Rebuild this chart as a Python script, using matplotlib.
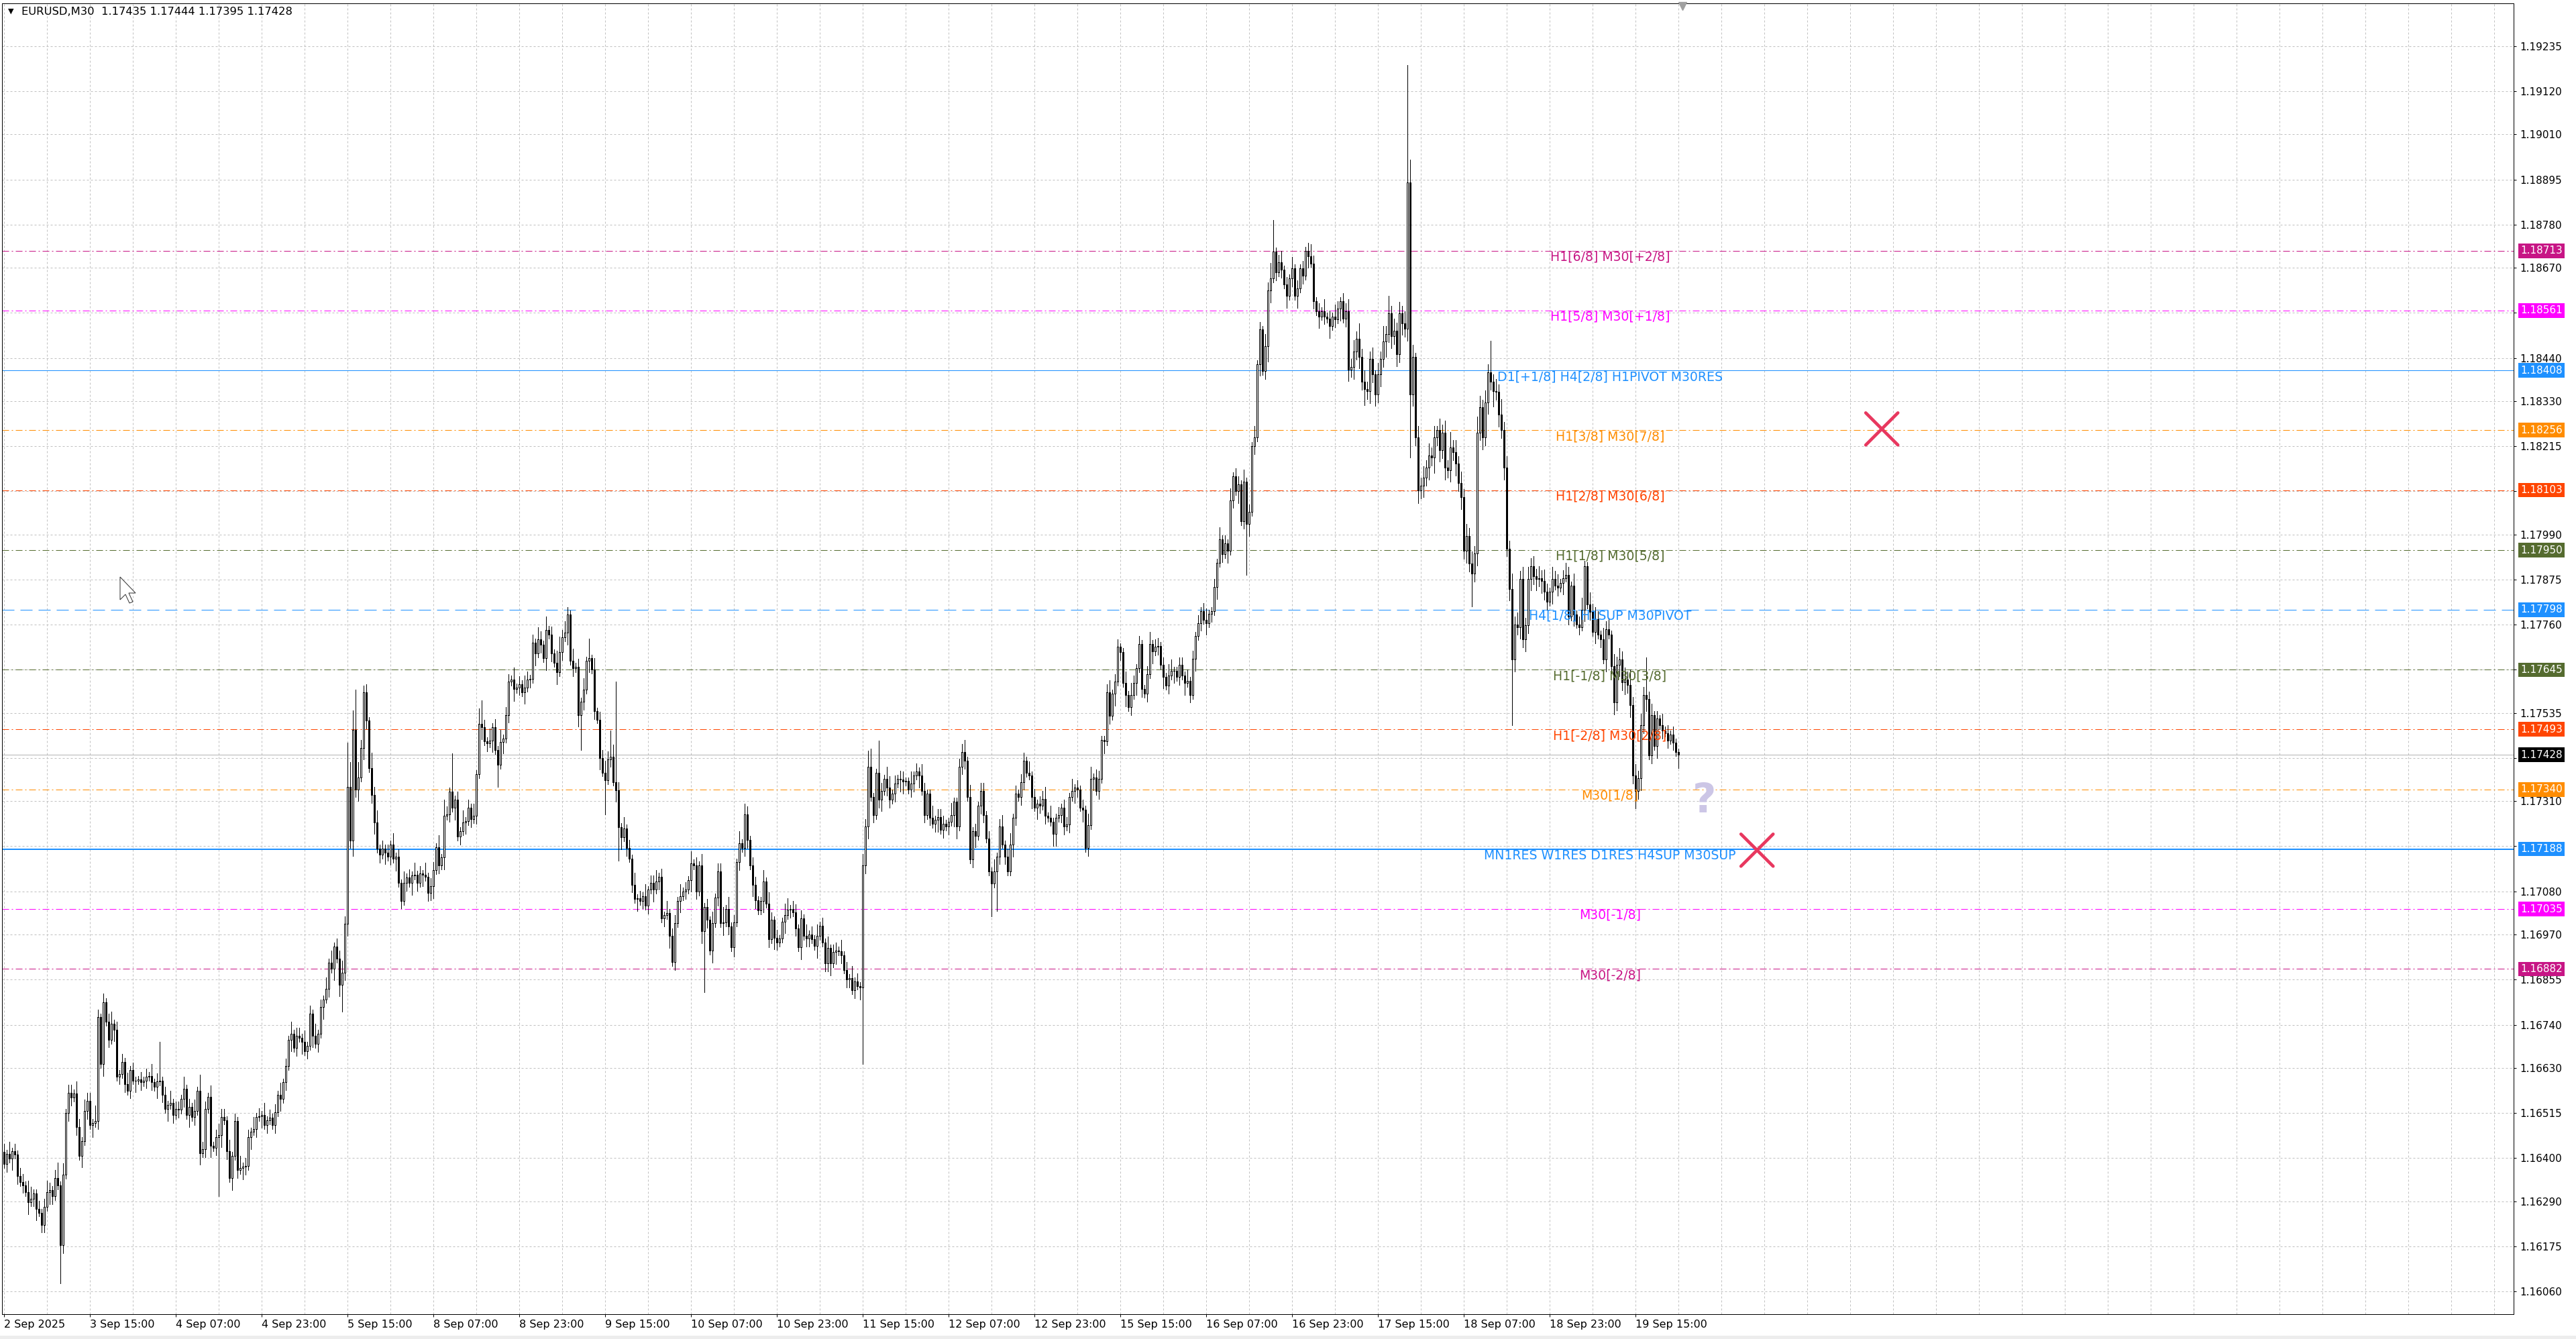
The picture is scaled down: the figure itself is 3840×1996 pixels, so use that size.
import numpy as np
import matplotlib.pyplot as plt
from matplotlib.patches import Polygon, Rectangle

plt.rcParams['font.family'] = ['DejaVu Sans']
plt.rcParams['lines.scale_dashes'] = False

# prices are kept in pips above BASE
BASE = 1.16000
first_open = 41.6
close_pips = [
    38.5, 41.1, 39.9, 41.7, 40.9, 35.4, 33.9, 33.1, 31.3, 28.7,
    29.7, 31.0, 27.1, 26.1, 23.0, 27.6, 31.3, 31.8, 30.3, 34.9,
    33.0, 17.8, 35.7, 51.5, 56.7, 55.4, 56.5, 47.9, 40.6, 44.3,
    52.0, 54.6, 48.4, 48.9, 49.4, 75.9, 64.0, 79.7, 74.8, 70.2,
    74.3, 72.8, 60.8, 61.4, 64.5, 58.8, 57.2, 62.4, 59.8, 59.8,
    60.0, 59.3, 59.8, 60.8, 61.0, 59.3, 58.2, 59.6, 59.8, 56.2,
    52.5, 53.6, 54.1, 51.0, 52.5, 52.3, 55.1, 57.7, 51.0, 53.1,
    50.5, 52.0, 57.2, 41.3, 42.2, 52.5, 55.6, 43.2, 42.7, 45.3,
    45.8, 50.5, 49.6, 41.7, 34.9, 40.6, 49.4, 37.0, 37.5, 37.8,
    38.0, 45.3, 46.8, 47.4, 50.5, 50.7, 51.0, 48.4, 49.6, 50.3,
    48.4, 51.7, 56.2, 55.1, 59.3, 63.4, 70.2, 71.7, 68.1, 71.2,
    70.7, 69.6, 67.3, 68.6, 76.9, 71.2, 69.1, 71.7, 78.5, 80.5,
    83.1, 89.9, 88.3, 94.0, 90.9, 84.2, 87.3, 99.7, 134.6, 121.0,
    149.1, 134.0, 137.0, 144.6, 158.8, 151.5, 139.4, 132.6, 125.6, 118.9,
    117.3, 118.9, 117.9, 116.8, 119.9, 116.3, 116.8, 110.1, 105.6, 110.1,
    111.6, 110.1, 112.1, 112.3, 110.1, 112.5, 112.3, 111.7, 107.6, 109.3,
    113.4, 119.3, 114.6, 116.6, 127.3, 127.7, 133.4, 129.3, 131.4, 122.0,
    123.4, 125.6, 125.9, 129.3, 126.4, 127.3, 137.9, 150.7, 149.8, 146.3,
    145.7, 146.5, 149.9, 144.0, 140.3, 146.1, 146.9, 153.0, 161.4, 162.0,
    159.6, 160.0, 160.8, 158.8, 160.0, 162.0, 162.2, 171.4, 168.6, 172.3,
    170.9, 167.4, 174.7, 173.5, 168.7, 166.3, 163.8, 169.0, 172.7, 173.9,
    178.6, 166.8, 164.9, 165.3, 153.0, 156.3, 159.4, 166.8, 167.4, 164.5,
    153.9, 151.8, 142.0, 138.3, 136.3, 141.7, 142.4, 135.9, 133.8, 124.4,
    121.8, 124.0, 119.1, 116.4, 109.7, 106.0, 106.2, 105.6, 106.8, 104.3,
    108.4, 110.1, 108.4, 110.5, 111.7, 101.1, 101.9, 102.5, 96.6, 90.0,
    99.9, 105.6, 106.8, 108.0, 108.4, 110.9, 115.2, 114.6, 108.0, 114.6,
    97.8, 104.1, 100.7, 92.9, 99.9, 106.4, 113.1, 99.9, 100.0, 103.5,
    99.0, 93.7, 100.0, 115.4, 120.3, 119.1, 127.7, 121.1, 114.6, 109.7,
    105.7, 103.1, 105.6, 110.5, 104.8, 95.8, 100.7, 96.2, 95.0, 95.9,
    100.3, 101.9, 103.3, 103.5, 102.7, 98.6, 93.7, 101.1, 96.6, 95.9,
    97.0, 95.8, 94.1, 96.6, 99.2, 95.0, 89.6, 93.5, 89.6, 92.5,
    92.9, 92.7, 91.7, 88.0, 85.5, 85.9, 82.8, 85.1, 83.9, 83.5,
    114.6, 124.5, 139.8, 132.1, 127.5, 138.2, 131.4, 133.6, 136.7, 134.4,
    131.4, 132.9, 135.5, 136.7, 136.5, 136.0, 136.1, 134.0, 135.5, 137.5,
    138.6, 137.5, 133.6, 127.5, 133.0, 126.8, 125.2, 126.2, 127.0, 123.7,
    125.2, 124.5, 125.7, 127.5, 130.9, 124.5, 139.8, 143.6, 141.3, 132.1,
    116.1, 123.3, 122.2, 129.8, 133.6, 127.5, 121.4, 113.1, 110.0, 113.1,
    116.9, 124.5, 120.0, 116.9, 113.1, 119.9, 126.8, 132.9, 132.1, 135.9,
    141.3, 138.2, 137.5, 132.1, 129.4, 130.3, 129.9, 131.6, 127.2, 126.8,
    125.7, 122.6, 126.8, 127.5, 129.4, 124.5, 125.0, 132.1, 133.6, 134.4,
    134.0, 129.4, 128.8, 119.1, 124.8, 136.7, 137.0, 133.6, 136.7, 146.6,
    146.2, 158.8, 152.7, 158.4, 161.4, 170.3, 169.0, 161.1, 158.1, 155.0,
    158.1, 161.1, 164.9, 171.1, 159.6, 158.4, 163.4, 171.1, 169.1, 170.3,
    170.6, 165.7, 162.7, 160.4, 163.0, 164.2, 164.2, 162.7, 165.7, 163.0,
    161.1, 161.6, 158.1, 167.3, 173.1, 176.4, 179.5, 177.2, 176.4, 178.7,
    179.5, 185.6, 191.7, 197.8, 194.0, 196.7, 194.8, 207.7, 213.8, 210.0,
    211.8, 202.4, 212.5, 201.6, 204.7, 221.5, 223.7, 242.4, 251.2, 240.6,
    247.0, 261.2, 264.2, 271.1, 265.8, 268.3, 266.5, 262.7, 259.8, 264.3,
    266.8, 259.8, 261.7, 266.8, 264.9, 271.3, 270.0, 268.1, 258.5, 255.9,
    254.6, 255.9, 254.6, 254.0, 252.1, 254.6, 253.8, 256.5, 258.5, 254.0,
    255.9, 241.1, 241.7, 245.6, 248.8, 244.3, 237.9, 236.0, 235.5, 243.7,
    239.8, 234.7, 239.8, 243.7, 248.2, 250.1, 255.3, 249.5, 251.0, 244.9,
    255.3, 252.9, 251.4, 288.7, 234.7, 244.3, 223.7, 210.2, 211.5, 213.4,
    216.0, 219.2, 218.6, 223.7, 225.6, 220.5, 225.0, 216.0, 215.4, 221.1,
    220.0, 217.0, 212.1, 208.5, 194.8, 198.6, 191.6, 189.0, 194.1, 225.0,
    231.4, 223.7, 232.7, 240.4, 237.9, 235.6, 235.3, 229.5, 225.6, 216.0,
    195.4, 185.1, 167.1, 176.1, 175.4, 187.7, 172.2, 175.8, 187.7, 190.9,
    188.3, 187.7, 187.9, 187.1, 184.4, 181.8, 184.4, 187.7, 185.9, 185.4,
    186.7, 187.9, 188.7, 178.0, 186.0, 178.6, 176.1, 175.4, 179.8, 190.9,
    181.2, 179.3, 174.2, 177.4, 173.5, 172.2, 167.1, 174.8, 173.5, 165.5,
    156.1, 165.8, 167.1, 161.3, 162.0, 160.6, 155.5, 137.5, 133.6, 136.8,
    150.3, 158.1, 157.0, 142.6, 152.9, 145.0, 152.0, 150.3, 149.0, 148.4,
    146.5, 148.0, 146.0, 143.5, 142.8,
]

# wick length per bar in pips (one digit per bar)
upper_wick = "".join([
    "21312 12213 31121 23212 41312",
    "21321 32214 21312 31212 13121",
    "12121 31291 21312 21312 13142",
    "21312 32213 12131 22131 21312",
    "12131 21312 21312 13121 31312",
    "23243 53423 21423 12121 31213",
    "12131 21312 21314 21312 13121",
    "31422 13121 31221 31213 21213",
    "21312 13423 21312 13121 31223",
    "21382 13121 31213 12231 21312",
    "21312 13121 31213 12241 31213",
    "13212 21131 32121 13312 21213",
    "12131 21312 21312 13121 32431",
    "12213 31212 21131 21321 13122",
    "21131 12231 31212 21213 12312",
    "31212 21312 12231 31121 22131",
    "21213 31221 12312 21131 32121",
    "12312 21213 31122 13121 21231",
    "12131 21312 21312 13121 32431",
    "23121 31212 12321 21312 13212",
    "23232 42322 31324 23232 32325",
    "31323 23231 32324 23232 32324",
    "32324 23242 32423 23232 32323",
    "21323 12321 31232 13232 13231",
    "32323 24232 32323 12131 21211",
]).replace(" ", "")
lower_wick = "".join([
    "12131 21213 12312 21321 19212",
    "21213 12131 21312 13121 21213",
    "12121 21312 13121 21213 12131",
    "21312 13121 31213 21312 13121",
    "12131 21312 13121 31213 12131",
    "34232 42313 21231 21312 13121",
    "21312 13121 31213 12131 21312",
    "12131 21312 13121 31213 12131",
    "21312 13121 31213 12131 21314",
    "12131 31212 13121 21312 12131",
    "21312 13121 31213 12131 21312",
    "12213 21131 21321 13121 21312",
    "21131 12231 31212 21213 12312",
    "12312 21213 31122 13121 21231",
    "21213 31221 12312 21131 32121",
    "13212 21131 32121 13312 21213",
    "21312 13121 31213 12131 21312",
    "12131 21312 13121 31213 12131",
    "21312 13121 31213 12131 24312",
    "12131 21312 13121 31213 12131",
    "23232 32423 23232 42323 23232",
    "32323 23242 32323 23232 32323",
    "23232 42323 23232 32323 23232",
    "21312 13121 31213 12131 21312",
    "32323 23242 32312 13121 21211",
]).replace(" ", "")

# long wicks (pips above BASE)
high_fix = {37: 82.0, 58: 69.6, 128: 145.9, 129: 140.9, 131: 159.5, 134: 160.5,
            167: 143.2, 178: 156.7, 202: 178.0, 210: 180.4, 218: 172.5, 226: 149.0,
            228: 161.4, 276: 130.3, 323: 144.4, 326: 146.5, 473: 279.1, 516: 259.8,
            523: 318.7, 524: 294.5, 554: 248.4, 570: 193.5, 589: 192.2, 612: 167.7,
            624: 144.4}
low_fix = {21: 8.0, 80: 30.3, 126: 77.4, 130: 117.1, 159: 105.7, 184: 134.6,
           215: 144.0, 224: 127.7, 229: 115.8, 261: 82.3, 272: 91.3, 320: 64.0,
           368: 101.6, 370: 103.0, 463: 188.6, 524: 218.6, 527: 207.0, 547: 180.6,
           562: 150.3, 608: 129.1, 624: 139.5}

level_prices = [1.18713, 1.18561, 1.18408, 1.18256, 1.18103, 1.17950, 1.17798,
                1.17645, 1.17493, 1.17340, 1.17188, 1.17035, 1.16882]
level_names = ["H1[6/8] M30[+2/8]", "H1[5/8] M30[+1/8]", "D1[+1/8] H4[2/8] H1PIVOT M30RES",
               "H1[3/8] M30[7/8]", "H1[2/8] M30[6/8]", "H1[1/8] M30[5/8]",
               "H4[1/8] H1SUP M30PIVOT", "H1[-1/8] M30[3/8]", "H1[-2/8] M30[2/8]",
               "M30[1/8]", "MN1RES W1RES D1RES H4SUP M30SUP", "M30[-1/8]", "M30[-2/8]"]
level_colors = ["#C71585", "#FF00FF", "#1E90FF", "#FF8C00", "#FF4500", "#556B2F",
                "#1E90FF", "#556B2F", "#FF4500", "#FF8C00", "#1E90FF", "#FF00FF", "#C71585"]
level_styles = ["dashdot", "dashdot", "solid", "dashdot", "dashdot", "dashdot",
                "dashed", "dashdot", "dashdot", "dashdot", "thick", "dashdot", "dashdot"]

ytick_vals = [1.19235, 1.19120, 1.19010, 1.18895, 1.18780, 1.18670, 1.18555, 1.18440,
              1.18330, 1.18215, 1.18100, 1.17990, 1.17875, 1.17760, 1.17645, 1.17535,
              1.17420, 1.17310, 1.17195, 1.17080, 1.16970, 1.16855, 1.16740, 1.16630,
              1.16515, 1.16400, 1.16290, 1.16175, 1.16060]
xtick_labels = ["2 Sep 2025", "3 Sep 15:00", "4 Sep 07:00", "4 Sep 23:00", "5 Sep 15:00",
                "8 Sep 07:00", "8 Sep 23:00", "9 Sep 15:00", "10 Sep 07:00", "10 Sep 23:00",
                "11 Sep 15:00", "12 Sep 07:00", "12 Sep 23:00", "15 Sep 15:00", "16 Sep 07:00",
                "16 Sep 23:00", "17 Sep 15:00", "18 Sep 07:00", "18 Sep 23:00", "19 Sep 15:00"]
bars_per_label = 32

cross_bars = [699.8, 653.3]
cross_prices = [1.18259, 1.17185]
question_bar, question_price = 633.7, 1.17310

# ---- build OHLC ----
c = BASE + np.array(close_pips) / 1e4
o = np.concatenate([[BASE + first_open / 1e4], c[:-1]])
uw = np.array([int(ch) for ch in upper_wick[:len(c)]]) / 1e4
lw = np.array([int(ch) for ch in lower_wick[:len(c)]]) / 1e4
h = np.maximum(o, c) + uw
l = np.minimum(o, c) - lw
for k, v in high_fix.items():
    h[k] = BASE + v / 1e4
for k, v in low_fix.items():
    l[k] = BASE + v / 1e4
x = np.arange(len(c))

W, H = 3840, 1996
fig = plt.figure(figsize=(W / 100, H / 100), dpi=100)
ax = fig.add_axes([3 / W, 37 / H, 3744 / W, 1954 / H])
ax.set_xlim(-0.75, 935.25)
ax.set_ylim(1.16002, 1.19344)

px = 0.72  # one pixel in points
grid_kw = dict(color="#C0C0C0", lw=px, dashes=(3 * px, 3 * px), zorder=0)
for yv in ytick_vals:
    ax.axhline(yv, **grid_kw)
for gx in range(0, 936, 16):
    ax.axvline(gx, **grid_kw)

# level lines
for p, col, st in zip(level_prices, level_colors, level_styles):
    if st == "dashdot":
        ax.axhline(p, color=col, lw=px, dashes=(10 * px, 4 * px, 2 * px, 4 * px), zorder=1)
    elif st == "dashed":
        ax.axhline(p, color=col, lw=px, dashes=(18 * px, 9 * px), zorder=1)
    elif st == "thick":
        ax.axhline(p, color=col, lw=2 * px, zorder=1)
    else:
        ax.axhline(p, color=col, lw=px, zorder=1)
ax.axhline(c[-1], color="#B4B4B4", lw=px, zorder=1)

# candles
up = c >= o
ax.vlines(x, l, h, color="black", lw=px, zorder=3, antialiased=False)
ax.bar(x[up], (c - o)[up], bottom=o[up], width=0.62, facecolor="white",
       edgecolor="black", linewidth=px, zorder=4, antialiased=False)
ax.bar(x[~up], (c - o)[~up], bottom=o[~up], width=0.62, facecolor="black",
       edgecolor="black", linewidth=px, zorder=4, antialiased=False)

# level captions
for p, name, col in zip(level_prices, level_names, level_colors):
    ax.annotate(name, xy=(598.5, p), xytext=(0, -6.8), textcoords="offset points",
                ha="center", va="center", fontsize=13.6, color=col, zorder=6)

# axes / ticks
ax.yaxis.tick_right()
ax.set_yticks(ytick_vals)
ax.set_yticklabels([f"{v:.5f}" for v in ytick_vals])
ax.set_xticks([bars_per_label * i for i in range(len(xtick_labels))])
ax.set_xticklabels(xtick_labels)
for lab in ax.get_xticklabels():
    lab.set_ha("left")
ax.tick_params(axis="y", length=4 * px, width=px, pad=3.6, labelsize=11, colors="black")
ax.tick_params(axis="x", length=4 * px, width=px, pad=3.2, labelsize=11.5, colors="black")
for s in ax.spines.values():
    s.set_linewidth(px)
    s.set_color("black")

# price boxes on the right scale
ytr = ax.get_yaxis_transform()
box_prices = level_prices + [c[-1]]
box_colors = level_colors + ["black"]
for p, col in zip(box_prices, box_colors):
    ax.text(1.0027, p, f"{p:.5f}", transform=ytr, ha="left", va="center", fontsize=11,
            color="white", clip_on=False, zorder=7,
            bbox=dict(boxstyle="square,pad=0.22", fc=col, ec="none"))

# marks on the chart
for bx, py in zip(cross_bars, cross_prices):
    dx, dy = 6.0, 0.00041
    ax.plot([bx - dx, bx + dx], [py - dy, py + dy], color="#E8385F", lw=3.4,
            solid_capstyle="round", zorder=8)
    ax.plot([bx - dx, bx + dx], [py + dy, py - dy], color="#E8385F", lw=3.4,
            solid_capstyle="round", zorder=8)
ax.text(question_bar, question_price, "?", fontsize=44, fontweight="bold",
        color="#CCC6E6", ha="center", va="center", zorder=8)
ax.plot([len(c) + 0.5], [1.19338], marker="v", ms=9, color="#A0A0A0",
        clip_on=False, zorder=9)

# header
fig.text(12 / W, 1 - 17 / H, "\u25BC", fontsize=8, va="center", ha="left")
fig.text(32 / W, 1 - 17 / H,
         f"EURUSD,M30  {o[-1]:.5f} {h[-1]:.5f} {l[-1]:.5f} {c[-1]:.5f}",
         fontsize=11.8, va="center", ha="left")

# mouse pointer
tip = np.array([179, H - 860])
shape = np.array([[0, 0], [0, -34], [8, -26], [14, -39], [19, -37], [13, -24], [23, -24]])
fig.patches.append(Polygon(tip + shape, closed=True, transform=None, fc="white",
                           ec="#333333", lw=px, figure=fig))
fig.patches.append(Rectangle((0, 0), 1, 5 / H, transform=fig.transFigure,
                             fc="#EDEDED", ec="none", figure=fig))

fig.savefig("out.png", dpi=100)
